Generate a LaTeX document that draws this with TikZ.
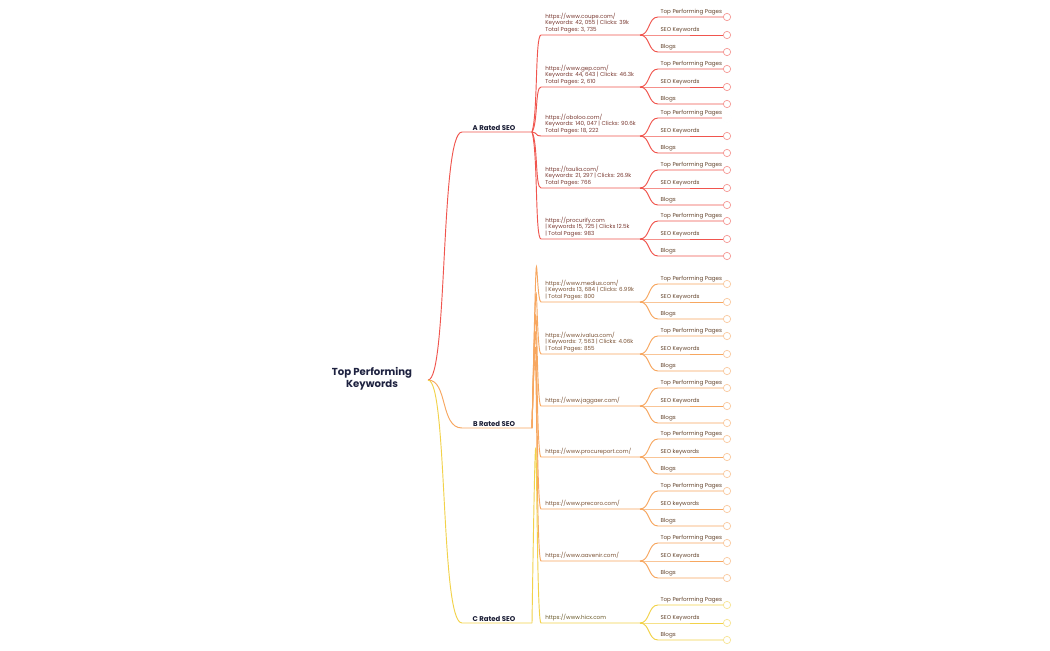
\documentclass[tikz,border=0pt]{standalone}
\usepackage{fontspec}
\setmainfont{Poppins}
\definecolor{cA}{HTML}{F0554E}
\definecolor{cB}{HTML}{F7A760}
\definecolor{cC}{HTML}{F2D24A}
\definecolor{tA}{HTML}{7A3A32}
\definecolor{tB}{HTML}{7A5234}
\definecolor{tC}{HTML}{6A5A2A}
\definecolor{navy}{HTML}{1E2240}
\tikzset{
 lineA/.style={draw=cA,line width=0.7pt},
 lineB/.style={draw=cB,line width=0.7pt},
 lineC/.style={draw=cC,line width=0.7pt},
 sitetxt/.style={anchor=south west,inner sep=0pt,align=left,font=\fontsize{4.2}{4.9}\selectfont},
 leaftxt/.style={anchor=south west,inner sep=1pt,font=\fontsize{4.2}{5}\selectfont,text=tB!80!black},
 grp/.style={anchor=south,inner sep=1pt,font=\bfseries\fontsize{5.2}{6}\selectfont,text=navy!80!black},
 endc/.style={circle,inner sep=0pt,minimum size=5.5pt,line width=0.5pt,fill=white}
}
\begin{document}
\begin{tikzpicture}[x=0.75pt,y=-0.75pt]
\useasboundingbox[fill=white] (0,0) rectangle (1050,650);
\node[align=center,font=\bfseries\fontsize{7.6}{9}\selectfont,text=navy] (root) at (372,379) {Top Performing\\Keywords};
\coordinate (r) at (428,380);
% groups
\foreach \g/\y/\lab in {A/132/A Rated SEO,B/428/B Rated SEO,C/623/C Rated SEO}{
  \coordinate (g\g) at (462,\y);
  \coordinate (h\g) at (532,\y);
  \node[grp] (lab\g) at (494,\y) {\lab};
  \draw[line\g] (r) .. controls (448,380) and (440,\y) .. (g\g) -- (h\g);
}
% sites
\foreach \n/\g/\y/\sk/\tc/\t in {
 coupe/A/35/SEO Keywords/1/{https://www.coupe.com/\\Keywords: 42, 055 | Clicks: 39k\\Total Pages: 3, 735},
 gep/A/87/SEO Keywords/1/{https://www.gep.com/\\Keywords: 44, 643 | Clicks: 46.3k\\Total Pages: 2, 610},
 oboloo/A/136/SEO Keywords/0/{https://oboloo.com/\\Keywords: 140, 047 | Clicks: 90.6k\\Total Pages: 18, 222},
 taulia/A/188/SEO Keywords/1/{https://taulia.com/\\Keywords: 21, 297 | Clicks: 26.9k\\Total Pages: 766},
 procurify/A/239/SEO Keywords/1/{https://procurify.com\\| Keywords 15, 725 | Clicks 12.5k\\| Total Pages: 983},
 medius/B/302/SEO Keywords/1/{https://www.medius.com/\\| Keywords 13, 684 | Clicks: 6.99k\\| Total Pages: 800},
 ivalua/B/354/SEO Keywords/1/{https://www.ivalua.com/\\| Keywords: 7, 563 | Clicks: 4.06k\\| Total Pages: 855},
 jaggaer/B/406/SEO Keywords/1/{https://www.jaggaer.com/},
 procureport/B/457/SEO keywords/1/{https://www.procureport.com/},
 precoro/B/509/SEO keywords/1/{https://www.precoro.com/},
 aavenir/B/561/SEO Keywords/1/{https://www.aavenir.com/},
 hicx/C/623/SEO Keywords/1/{https://www.hicx.com}}{
  \coordinate (s-\n) at (541,\y);
  \coordinate (e-\n) at (640,\y);
  \node[sitetxt,text=t\g] (n-\n) at (545,\y-2) {\t};
  \draw[line\g] (h\g) .. controls (538,\y*0.2+132*0.8) and (535,\y) .. (s-\n) -- (e-\n);
  \foreach \lab/\d/\k in {Top Performing Pages/-18/1,\sk/0/2,Blogs/17/3}{
    \coordinate (l-\n-\k) at (658,\y+\d);
    \node[leaftxt] (lt-\n-\k) at (659,\y+\d-0.5) {\lab};
    \node[endc,draw=c\g!60] (c-\n-\k) at (727,\y+\d) {};
    \draw[line\g] (e-\n) .. controls (650,\y) and (648,\y+\d) .. (l-\n-\k) -- (c-\n-\k);
  }
}
% oboloo top leaf without circle
\node[endc,draw=white,minimum size=7pt] at (727,118) {};
\end{tikzpicture}
\end{document}
